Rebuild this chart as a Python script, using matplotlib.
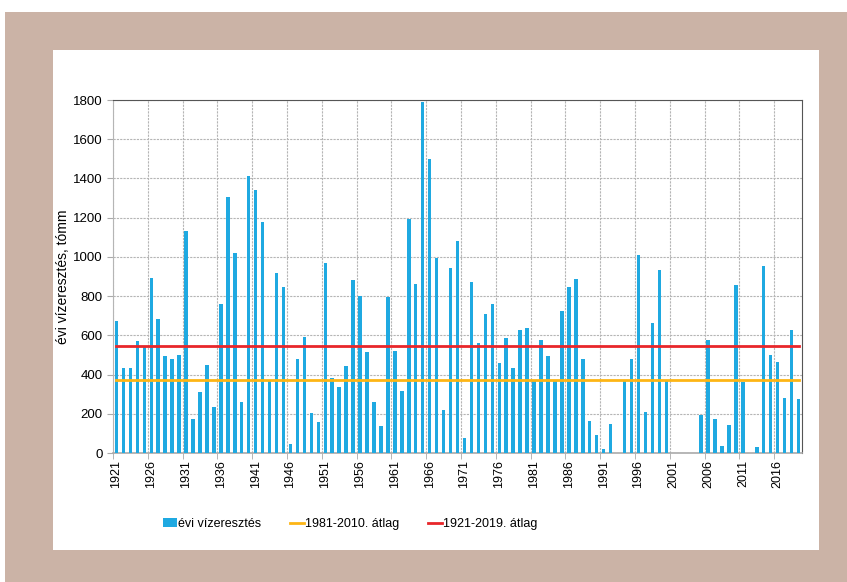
import matplotlib.pyplot as plt
from matplotlib.patches import Rectangle
import numpy as np

plt.rcParams['font.family'] = ['Liberation Sans', 'DejaVu Sans']

years = list(range(1921, 2020))
vizeresztes = [
    673, 434, 434, 570, 545, 892, 681, 497, 478, 500,
    1131, 175, 310, 449, 234, 759, 1307, 1019, 258, 1414,
    1342, 1178, 370, 920, 848, 47, 478, 593, 205, 158,
    968, 383, 334, 444, 880, 803, 517, 261, 139, 798,
    520, 314, 1192, 861, 1788, 1497, 992, 219, 942, 1080,
    78, 871, 561, 708, 759, 461, 585, 434, 625, 636,
    368, 576, 493, 368, 724, 844, 887, 481, 161, 93,
    19, 147, 0, 368, 481, 1012, 210, 664, 932, 368,
    0, 0, 0, 0, 195, 576, 173, 34, 142, 856,
    361, 0, 31, 956, 500, 464, 281, 625, 275,
]
atlag_1981_2010 = 373
atlag_1921_2019 = 548

fig = plt.figure(figsize=(8.47, 5.82), dpi=100)
fig.patches.append(Rectangle((5 / 847, 0), 842 / 847, 570 / 582, transform=fig.transFigure,
                             facecolor='#cbb3a6', edgecolor='none', zorder=-2))
fig.patches.append(Rectangle((53 / 847, 32 / 582), 766 / 847, 500 / 582, transform=fig.transFigure,
                             facecolor='white', edgecolor='none', zorder=-1))

ax = fig.add_axes([113 / 847, 129 / 582, 689 / 847, 353 / 582])
x = np.arange(len(years))
bars = ax.bar(x, vizeresztes, width=0.5, color='#1fa9e1', label='évi vízeresztés', zorder=3)
l1, = ax.plot(x, [atlag_1981_2010] * len(x), color='#fdb515', lw=2, label='1981-2010. átlag', zorder=4)
l2, = ax.plot(x, [atlag_1921_2019] * len(x), color='#e8262a', lw=2, label='1921-2019. átlag', zorder=4)

ax.set_xlim(-0.5, len(years) - 0.5)
ax.set_ylim(0, 1800)
ax.set_yticks(range(0, 1801, 200))
ax.set_xticks(x[::5])
ax.set_xticklabels([str(y) for y in years[::5]], rotation=90, fontsize=9)
ax.set_xticks(np.arange(-0.5, len(years), 5), minor=True)
ax.tick_params(axis='x', which='major', length=0, pad=5)
ax.tick_params(axis='x', which='minor', length=4, color='#aaaaaa')
ax.tick_params(axis='y', labelsize=9.5, length=4, color='#aaaaaa')
ax.grid(True, axis='y', color='#b5b5b5', ls=(0, (2, 1)), lw=0.8, zorder=0)
ax.grid(True, axis='x', which='minor', color='#b5b5b5', ls=(0, (2, 1)), lw=0.8, zorder=0)

ax.set_ylabel('évi vízeresztés, tómm', fontsize=10, labelpad=2)
for side in ['top', 'right']:
    ax.spines[side].set_color('#555555')
ax.spines['bottom'].set_color('#aaaaaa')
ax.spines['bottom'].set_linewidth(1.2)
ax.spines['left'].set_color('#b5b5b5')
ax.spines['left'].set_linestyle((0, (2, 1)))

fig.legend(handles=[bars, l1, l2], loc='center', bbox_to_anchor=(350 / 847, 58 / 582), ncol=3,
           frameon=False, fontsize=9, handlelength=1.1, handletextpad=0.1, columnspacing=2.3)

fig.savefig('out.png', dpi=100)
